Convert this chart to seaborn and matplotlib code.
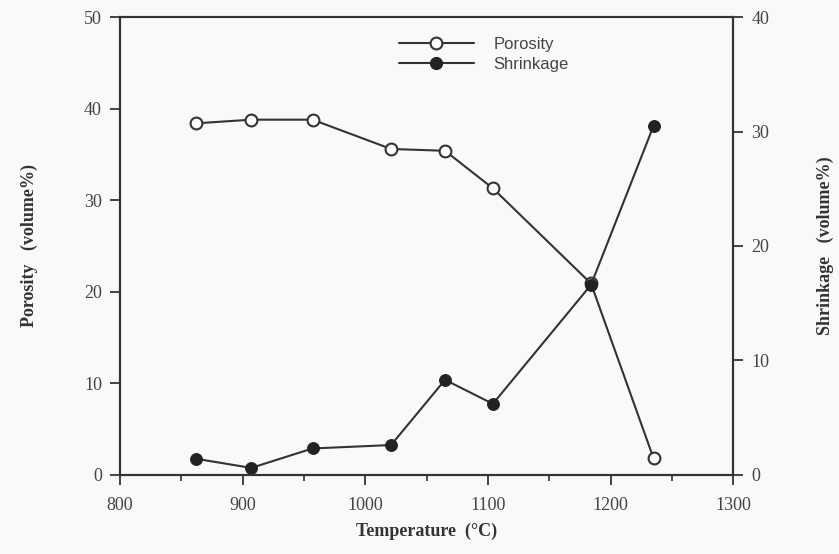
import matplotlib
matplotlib.use("Agg")
import matplotlib.pyplot as plt
import seaborn as sns
import pandas as pd
from matplotlib.ticker import MultipleLocator
from matplotlib.lines import Line2D

temperature = [862, 907, 957, 1021, 1065, 1104, 1184, 1235]
porosity = [38.4, 38.8, 38.8, 35.6, 35.4, 31.3, 20.9, 1.8]
shrinkage = [1.4, 0.6, 2.3, 2.6, 8.3, 6.2, 16.6, 30.5]

df = pd.DataFrame({"Temperature": temperature, "Porosity": porosity, "Shrinkage": shrinkage})

sns.set_style("ticks")
plt.rcParams["font.family"] = ["Liberation Serif", "DejaVu Serif"]

fig = plt.figure(figsize=(8.39, 5.54), dpi=100)
fig.patch.set_facecolor("#f9f9f7")
ax = fig.add_axes([0.143, 0.143, 0.731, 0.826])
ax.set_facecolor("#f9f9f7")
ax2 = ax.twinx()

lc = "#333333"
sns.lineplot(data=df, x="Temperature", y="Porosity", ax=ax, color=lc, lw=1.5,
             marker="o", markersize=8.5, markerfacecolor="white", markeredgecolor=lc,
             markeredgewidth=1.5)
sns.lineplot(data=df, x="Temperature", y="Shrinkage", ax=ax2, color=lc, lw=1.5,
             marker="o", markersize=8.5, markerfacecolor="#222222", markeredgecolor="#222222")

ax.set_xlim(800, 1300)
ax.set_ylim(0, 50)
ax2.set_ylim(0, 40)
ax.xaxis.set_major_locator(MultipleLocator(100))
ax.xaxis.set_minor_locator(MultipleLocator(50))
ax.yaxis.set_major_locator(MultipleLocator(10))
ax2.yaxis.set_major_locator(MultipleLocator(10))

for a in (ax, ax2):
    for s in a.spines.values():
        s.set_linewidth(1.5)
        s.set_color("#333333")
    a.tick_params(which="major", length=7, width=1.3, color="#333333",
                  labelsize=13, labelcolor="#444444", direction="out", pad=6)
    a.tick_params(which="minor", length=4, width=1.2, color="#333333", direction="out")
ax.tick_params(axis="x", which="major", pad=9)

ax.set_xlabel("Temperature  (°C)", fontsize=13, fontweight="bold", color="#333333", labelpad=6)
ax.set_ylabel("Porosity   (volume%)", fontsize=13, fontweight="bold", color="#333333", labelpad=33)
ax2.set_ylabel("Shrinkage   (volume%)", fontsize=13, fontweight="bold", color="#333333", labelpad=34)

handles = [
    Line2D([], [], color=lc, lw=1.5, marker="o", markersize=8.5, markerfacecolor="white",
           markeredgecolor=lc, markeredgewidth=1.5),
    Line2D([], [], color=lc, lw=1.5, marker="o", markersize=8.5, markerfacecolor="#222222",
           markeredgecolor="#222222"),
]
leg = ax.legend(handles, ["Porosity", "Shrinkage"], loc="upper left",
                bbox_to_anchor=(0.43, 0.99), frameon=False, handlelength=4.5,
                prop={"family": "Liberation Sans", "size": 12}, labelspacing=0.3,
                handletextpad=1.2)
for t in leg.get_texts():
    t.set_color("#444444")

fig.savefig("out.png", dpi=100, facecolor=fig.get_facecolor())
